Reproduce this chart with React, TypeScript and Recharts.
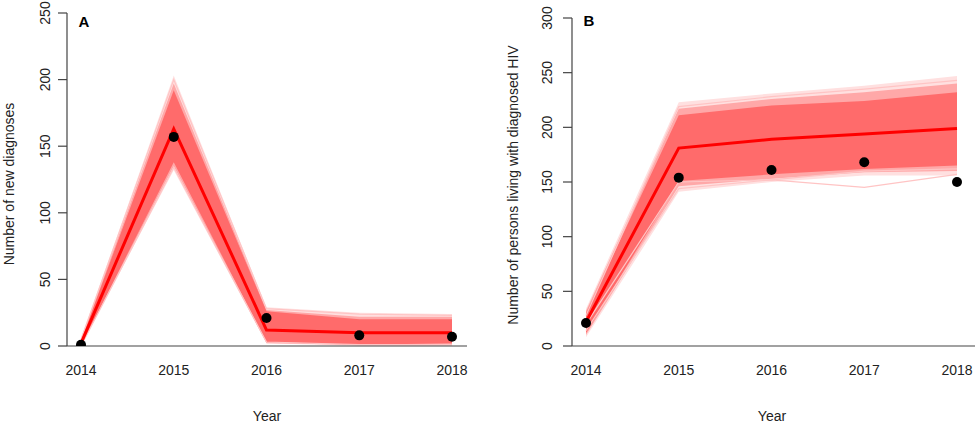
import React from 'react';
import { ComposedChart, Area, Line, XAxis, YAxis } from 'recharts';

const years = [2014, 2015, 2016, 2017, 2018];

// Panel A: new diagnoses
const aObserved = [1, 157, 21, 8, 7];
const aMedian = [2, 163, 12, 10, 10];
const aOuterLow = [0, 132, 2, 0, 0];
const aOuterHigh = [6, 203, 29, 25, 24];
const aMidLow = [0, 135, 2, 1, 1];
const aMidHigh = [5, 197, 27, 22, 22];
const aInnerLow = [0, 138, 3, 1, 2];
const aInnerHigh = [4, 192, 26, 20, 20];
const aTrajHigh = [5, 200, 28, 24, 23];
const aTrajLow = [0, 134, 3, 1, 1];
const aTicks = [0, 50, 100, 150, 200, 250];

// Panel B: persons living with diagnosed HIV
const bObserved = [21, 154, 161, 168, 150];
const bMedian = [22, 181, 189, 194, 199];
const bOuterLow = [8, 141, 150, 156, 156];
const bOuterHigh = [34, 223, 231, 238, 247];
const bMidLow = [10, 146, 153, 159, 160];
const bMidHigh = [32, 217, 226, 232, 240];
const bInnerLow = [12, 151, 157, 162, 165];
const bInnerHigh = [30, 211, 220, 224, 232];
const bTrajDip = [20, 150, 152, 145, 157];
const bTrajHigh = [28, 219, 228, 235, 243];
const bTrajLow = [14, 144, 152, 160, 162];
const bTicks = [0, 50, 100, 150, 200, 250, 300];

const FONT = '"Liberation Sans", Arial, Helvetica, sans-serif';
const AXIS = '#444';
const TEXT = '#222';

function buildRows(
  obs: number[], med: number[],
  oLo: number[], oHi: number[], mLo: number[], mHi: number[],
  iLo: number[], iHi: number[], trajs: number[][]
) {
  return years.map((year, i) => {
    const row: Record<string, any> = {
      year,
      obs: obs[i],
      med: med[i],
      outer: [oLo[i], oHi[i]],
      mid: [mLo[i], mHi[i]],
      inner: [iLo[i], iHi[i]],
    };
    trajs.forEach((t, k) => { row['t' + k] = t[i]; });
    return row;
  });
}

const dataA = buildRows(aObserved, aMedian, aOuterLow, aOuterHigh, aMidLow, aMidHigh, aInnerLow, aInnerHigh, [aTrajHigh, aTrajLow]);
const dataB = buildRows(bObserved, bMedian, bOuterLow, bOuterHigh, bMidLow, bMidHigh, bInnerLow, bInnerHigh, [bTrajDip, bTrajHigh, bTrajLow]);

const makeYTick = (cx: number) => (props: any) => {
  const { y, payload } = props;
  return (
    <text x={cx} y={y} dy="0.35em" textAnchor="middle" fontSize={14} fill={TEXT}
      fontFamily={FONT} transform={`rotate(-90, ${cx}, ${y})`}>
      {payload.value}
    </text>
  );
};

const XTick = (props: any) => {
  const { x, payload } = props;
  return (
    <text x={x} y={370} dy="0.35em" textAnchor="middle" fontSize={14} fill={TEXT} fontFamily={FONT}>
      {payload.value}
    </text>
  );
};

const Y_W = 40;
const X_H = 30;

function Panel({ data, width, axisX, top, rightPad, yMax, ticks, tickCx, trajCount }: any) {
  const plotW = width - axisX - rightPad;
  // year spacing measured ~92.75px, first year 14px right of the y axis
  const xMin = 2014 - 14 / 92.75;
  const xMax = 2018 + (plotW - 14 - 4 * 92.75) / 92.75;
  const margin = { top, right: rightPad, bottom: 426 - 346 - X_H, left: axisX - Y_W };
  return (
    <ComposedChart width={width} height={426} data={data} margin={margin}>
      <XAxis type="number" dataKey="year" domain={[xMin, xMax]} ticks={years} height={X_H}
        tickLine={false} axisLine={{ stroke: AXIS, strokeWidth: 1.2 }} tick={<XTick />} allowDataOverflow />
      <YAxis type="number" domain={[0, yMax]} ticks={ticks} width={Y_W} tickSize={9}
        tickLine={{ stroke: AXIS, strokeWidth: 1.2 }} axisLine={{ stroke: AXIS, strokeWidth: 1.2 }}
        tick={makeYTick(tickCx)} allowDataOverflow />
      <Area dataKey="outer" type="linear" stroke="none" fill="#FFE0E0" fillOpacity={1} isAnimationActive={false} />
      <Area dataKey="mid" type="linear" stroke="none" fill="#FFA8A8" fillOpacity={1} isAnimationActive={false} />
      <Area dataKey="inner" type="linear" stroke="none" fill="#FF6B6B" fillOpacity={1} isAnimationActive={false} />
      {Array.from({ length: trajCount }).map((_, k) => (
        <Line key={k} dataKey={'t' + k} type="linear" stroke="#FFC4C4" strokeWidth={1.2} dot={false} isAnimationActive={false} />
      ))}
      <Line dataKey="med" type="linear" stroke="#FF0000" strokeWidth={3} dot={false} isAnimationActive={false} />
      <Line dataKey="obs" type="linear" stroke="none" strokeWidth={0}
        dot={{ r: 5, fill: '#000', stroke: 'none' }} isAnimationActive={false} />
    </ComposedChart>
  );
}

export default function App() {
  return (
    <div style={{ position: 'absolute', left: 0, top: 0, width: 975, height: 426, background: '#fff', overflow: 'hidden' }}>
      <div style={{ position: 'absolute', left: 0, top: 0 }}>
        <Panel data={dataA} width={487} axisX={67} top={13} rightPad={20}
          yMax={250} ticks={aTicks} tickCx={45} trajCount={2} />
      </div>
      <div style={{ position: 'absolute', left: 487, top: 0 }}>
        <Panel data={dataB} width={488} axisX={85} top={18} rightPad={0}
          yMax={300} ticks={bTicks} tickCx={60} trajCount={3} />
      </div>
      <svg width={975} height={426} style={{ position: 'absolute', left: 0, top: 0, pointerEvents: 'none' }}>
        <g fontFamily={FONT} fill={TEXT} fontSize={14}>
          <text x={9} y={184} dy="0.35em" textAnchor="middle" transform="rotate(-90, 9, 184)">Number of new diagnoses</text>
          <text x={513} y={185} dy="0.35em" textAnchor="middle" transform="rotate(-90, 513, 185)">Number of persons living with diagnosed HIV</text>
          <text x={267} y={416} dy="0.35em" textAnchor="middle">Year</text>
          <text x={772} y={416} dy="0.35em" textAnchor="middle">Year</text>
          <text x={84} y={22} dy="0.35em" textAnchor="middle" fontWeight="bold" fontSize={15} fill="#000">A</text>
          <text x={589} y={21} dy="0.35em" textAnchor="middle" fontWeight="bold" fontSize={15} fill="#000">B</text>
        </g>
      </svg>
    </div>
  );
}
